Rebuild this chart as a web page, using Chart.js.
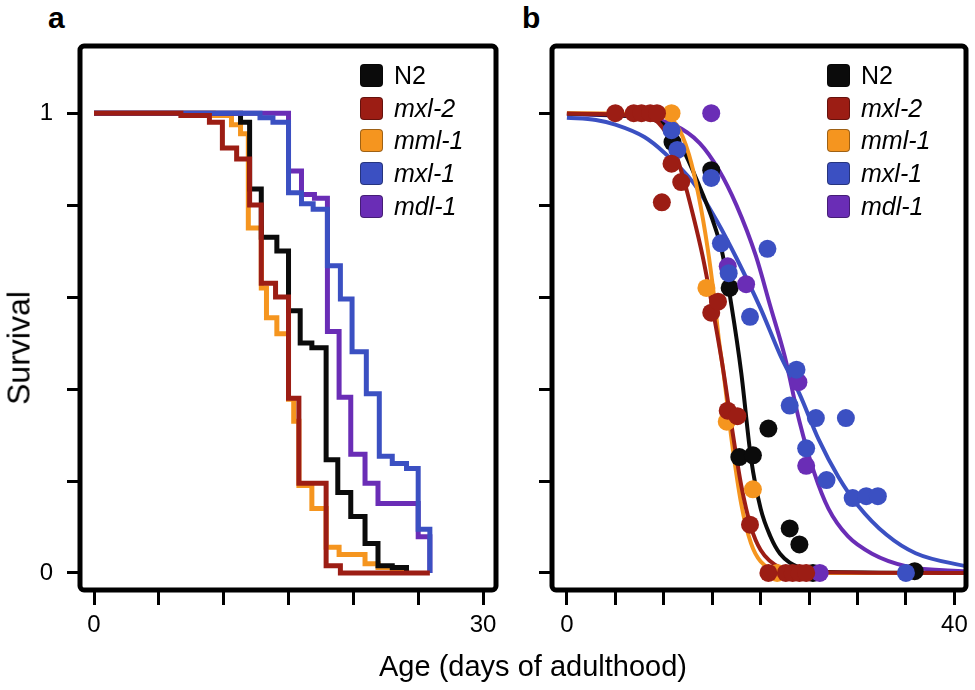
<!DOCTYPE html>
<html>
<head>
<meta charset="utf-8">
<script src="https://cdn.jsdelivr.net/npm/chart.js@4.4.0/dist/chart.umd.min.js"></script>
<style>
  body { margin: 0; background: #fff; width: 975px; height: 690px; position: relative; overflow: hidden;
         font-family: 'Liberation Sans', Arial, sans-serif; color: #000; }
  canvas { position: absolute; top: 0; }
  #ca { left: 0; }
  #cb { left: 510px; }
  .tag { position: absolute; top: 3px; font-weight: bold; font-size: 30px; line-height: 1; }
  .legend { position: absolute; top: 59px; font-size: 25px; line-height: 1; }
  .legend div { display: flex; align-items: center; height: 32.75px; }
  .legend .sw { width: 23px; height: 23px; border-radius: 4px; box-sizing: border-box;
                border: 1px solid rgba(0,0,0,.35); margin-right: 11px; }
  .legend i { font-style: italic; }
  .ylab { position: absolute; left: 19px; top: 348px; transform: translate(-50%,-50%) rotate(-90deg);
          font-size: 32px; white-space: nowrap; }
  .xlab { position: absolute; left: 533px; top: 666px; transform: translate(-50%,-50%);
          font-size: 29px; white-space: nowrap; }
</style>
</head>
<body>
<div class="tag" style="left:48px">a</div>
<div class="tag" style="left:522px">b</div>
<canvas id="ca" width="510" height="690"></canvas>
<canvas id="cb" width="465" height="690"></canvas>
<div class="legend" id="lega" style="left:360px"></div>
<div class="legend" id="legb" style="left:827px"></div>
<div class="ylab">Survival</div>
<div class="xlab">Age (days of adulthood)</div>
<script>
// a : courbes de Kaplan-Meier  [jour, survie]
const KM_N2   = [[0,1],[11.3,0.98],[12.0,0.835],[12.9,0.73],[14.1,0.70],[15.0,0.57],[15.9,0.50],[16.8,0.49],[17.9,0.246],[18.8,0.175],[19.8,0.123],[20.9,0.064],[21.9,0.016],[23.0,0.012],[24.1,0]];
const KM_MXL2 = [[0,1],[6.7,0.995],[8.9,0.98],[9.9,0.924],[11.0,0.90],[12.0,0.80],[12.9,0.63],[14.0,0.60],[15.0,0.38],[15.8,0.195],[17.9,0.016],[19.0,0],[25.9,0]];
const KM_MML1 = [[0,1],[9.2,0.995],[10.6,0.975],[11.3,0.955],[11.9,0.75],[12.9,0.62],[13.3,0.555],[14.1,0.52],[15.0,0.378],[15.4,0.33],[15.8,0.19],[16.8,0.14],[17.9,0.056],[18.9,0.04],[20.9,0.02],[21.9,0.012],[23.0,0.005],[24.0,0]];
const KM_MXL1 = [[0,1],[12.8,0.99],[13.8,0.98],[15.0,0.827],[16.0,0.803],[16.9,0.791],[18.0,0.668],[19.0,0.596],[19.9,0.481],[21.0,0.39],[22.0,0.254],[23.0,0.238],[24.1,0.227],[25.0,0.095],[25.9,0]];
const KM_MDL1 = [[0,1],[15.0,0.874],[16.0,0.823],[17.0,0.815],[18.0,0.525],[18.9,0.382],[19.8,0.258],[20.9,0.195],[21.9,0.151],[25.0,0.079],[25.9,0]];

// b : points mesurés
const PTS_N2   = [[10.9,0.937],[14.9,0.876],[16.8,0.62],[17.8,0.252],[19.2,0.256],[20.8,0.314],[23.0,0.097],[24.0,0.062],[25.4,0],[35.9,0.004]];
const PTS_MXL2 = [[5.0,1],[6.9,1],[7.7,1],[8.6,1],[9.3,1],[9.8,0.806],[10.8,0.89],[11.8,0.85],[14.9,0.566],[15.6,0.59],[16.6,0.353],[17.6,0.341],[18.9,0.105],[20.8,0],[22.6,0],[23.3,0],[24.0,0],[24.7,0]];
const PTS_MML1 = [[10.8,1],[14.4,0.62],[16.5,0.329],[19.2,0.182],[21.7,0]];
const PTS_MXL1 = [[10.8,0.963],[11.4,0.92],[14.9,0.859],[15.9,0.717],[16.7,0.652],[18.9,0.557],[20.7,0.705],[23.0,0.364],[23.7,0.442],[24.7,0.271],[25.7,0.337],[26.8,0.202],[28.8,0.337],[29.5,0.163],[30.9,0.167],[32.1,0.167],[35.0,0]];
const PTS_MDL1 = [[14.9,1],[16.6,0.667],[18.5,0.628],[23.9,0.415],[24.7,0.233],[26.1,0]];

// b : courbes ajustées
const FIT_N2   = [[0,0.999],[8,0.99],[10,0.975],[12,0.92],[13.5,0.85],[15,0.77],[16,0.70],[17,0.58],[18,0.435],[19,0.25],[20,0.14],[21,0.08],[22,0.042],[24,0.012],[27,0.002],[41.5,0]];
const FIT_MXL2 = [[0,0.999],[5,0.997],[8,0.99],[9.5,0.978],[11,0.925],[12,0.86],[13,0.78],[14,0.69],[15,0.58],[16,0.46],[17,0.32],[18,0.19],[19,0.1],[20,0.05],[22,0.012],[25,0.002],[41.5,0]];
const FIT_MML1 = [[0,1],[9.5,0.997],[11.3,0.975],[12.6,0.91],[13.6,0.82],[14.5,0.71],[15.2,0.6],[15.7,0.505],[16.2,0.43],[17,0.29],[18,0.15],[19,0.065],[20,0.025],[22,0.005],[25,0],[41.5,0]];
const FIT_MXL1 = [[0,0.99],[3,0.985],[5,0.975],[8,0.948],[10,0.915],[13,0.85],[15.5,0.765],[17.5,0.685],[20,0.575],[22,0.475],[24,0.39],[26,0.29],[28,0.21],[30,0.148],[33,0.083],[36,0.043],[41.5,0.013]];
const FIT_MDL1 = [[0,0.998],[8,0.99],[11,0.975],[13.7,0.935],[15.7,0.876],[17.5,0.8],[19.5,0.69],[21,0.58],[22.5,0.47],[24,0.33],[25.5,0.22],[27,0.14],[29,0.08],[31.5,0.042],[35,0.015],[41.5,0.003]];

const GENOTYPES = ['N2', 'mxl-2', 'mml-1', 'mxl-1', 'mdl-1'];
const TICKS_A = [0, 5, 10, 15, 20, 25, 30];
const TICKS_B = [0, 5, 10, 15, 20, 25, 30, 35, 40];
const TICKS_Y = [0, 0.2, 0.4, 0.6, 0.8, 1];

const COL = { 'N2': '#0b0b0b', 'mxl-2': '#9c1d14', 'mml-1': '#f5951f', 'mxl-1': '#3b50c2', 'mdl-1': '#6a2db6' };

const xy = (arr) => arr.map(([x, y]) => ({ x, y }));

Chart.defaults.font.family = "'Liberation Sans', Arial, sans-serif";
Chart.defaults.color = '#000';

const frame = {
  id: 'frame',
  afterDatasetsDraw(chart) {
    const { ctx, chartArea: a } = chart;
    ctx.save();
    ctx.strokeStyle = '#000';
    ctx.lineWidth = 5;
    ctx.beginPath();
    ctx.roundRect(a.left, a.top, a.right - a.left, a.bottom - a.top, 4);
    ctx.stroke();
    ctx.restore();
  }
};

function axes(xMin, xMax, xTicks, xLabels, yWidth, yLabels) {
  return {
    x: {
      type: 'linear', min: xMin, max: xMax,
      afterBuildTicks: (s) => { s.ticks = xTicks.map((v) => ({ value: v })); },
      afterFit: (s) => { s.height = 100; s.paddingLeft = 0; s.paddingRight = 0; },
      grid: { drawOnChartArea: false, tickLength: 15, tickWidth: 3, tickColor: '#000' },
      border: { display: false },
      ticks: { padding: 6, autoSkip: false, maxRotation: 0, font: { size: 24 },
               callback: (v) => (xLabels.includes(v) ? String(v) : '') }
    },
    y: {
      type: 'linear', min: -0.037, max: 1.146,
      afterBuildTicks: (s) => { s.ticks = TICKS_Y.map((v) => ({ value: v })); },
      afterFit: (s) => { s.width = yWidth; s.paddingTop = 0; s.paddingBottom = 0; },
      grid: { drawOnChartArea: false, tickLength: 13, tickWidth: 3, tickColor: '#000' },
      border: { display: false },
      ticks: { display: yLabels.length > 0, padding: 14, font: { size: 24 },
               callback: (v) => (yLabels.includes(v) ? String(v) : '') }
    }
  };
}

const baseOpts = {
  responsive: false, animation: false, devicePixelRatio: 1,
  plugins: { legend: { display: false }, tooltip: { enabled: false } },
};

// a
const kmSets = [
  ['mxl-2', KM_MXL2, 0], ['mxl-1', KM_MXL1, 1], ['mdl-1', KM_MDL1, 2], ['N2', KM_N2, 3], ['mml-1', KM_MML1, 4]
].map(([g, d, o]) => ({
  label: g, data: xy(d), order: o, showLine: true, stepped: 'before',
  borderColor: COL[g], borderWidth: 5, pointRadius: 0, borderJoinStyle: 'miter'
}));

new Chart(document.getElementById('ca'), {
  type: 'scatter',
  data: { datasets: kmSets },
  options: { ...baseOpts, layout: { padding: { top: 46, right: 14, left: 0, bottom: 0 } },
             scales: axes(-1.08, 31.0, TICKS_A, [0, 30], 80, [0, 1]) },
  plugins: [frame]
});

// b
const fits = [
  ['mxl-2', FIT_MXL2, 10], ['mml-1', FIT_MML1, 11], ['N2', FIT_N2, 12], ['mxl-1', FIT_MXL1, 13], ['mdl-1', FIT_MDL1, 14]
].map(([g, d, o]) => ({
  label: g, data: xy(d), order: o, showLine: true, cubicInterpolationMode: 'monotone',
  borderColor: COL[g], borderWidth: 4, pointRadius: 0
}));
const pts = [
  ['mxl-2', PTS_MXL2, 0], ['mml-1', PTS_MML1, 1], ['mxl-1', PTS_MXL1, 2], ['mdl-1', PTS_MDL1, 3], ['N2', PTS_N2, 4]
].map(([g, d, o]) => ({
  label: g, data: xy(d), order: o, showLine: false,
  pointRadius: 9, pointBackgroundColor: COL[g], pointBorderWidth: 0
}));

new Chart(document.getElementById('cb'), {
  type: 'scatter',
  data: { datasets: [...pts, ...fits] },
  options: { ...baseOpts, layout: { padding: { top: 46, right: 7, left: 0, bottom: 0 } },
             scales: axes(-1.54, 41.2, TICKS_B, [0, 40], 42, []) },
  plugins: [frame]
});

// légendes
for (const id of ['lega', 'legb']) {
  document.getElementById(id).innerHTML = GENOTYPES.map((g) =>
    `<div><span class="sw" style="background:${COL[g]}"></span>${g === 'N2' ? g : `<i>${g}</i>`}</div>`).join('');
}
</script>
</body>
</html>
